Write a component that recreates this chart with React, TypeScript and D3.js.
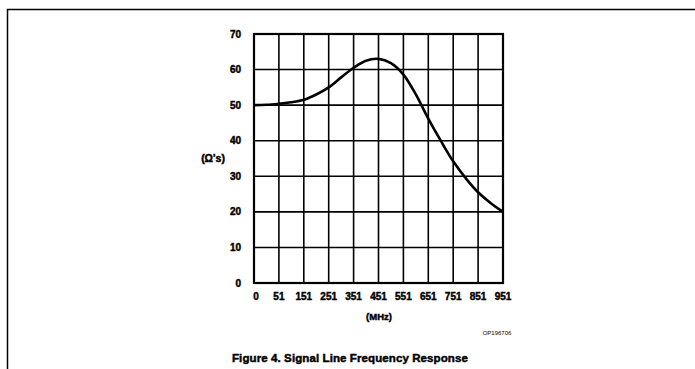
import React from "react";
import * as d3 from "d3";

const xLabels = ["0", "51", "151", "251", "351", "451", "551", "651", "751", "851", "951"];
const yTicks = [0, 10, 20, 30, 40, 50, 60, 70];
// curve samples: position in grid units (0..10) and ohms
const curveX = [0, 0.5, 1, 1.5, 2, 2.5, 3, 3.5, 4, 4.5, 5, 5.5, 6, 6.5, 7, 7.5, 8, 8.5, 9, 9.5, 10];
const curveY = [50, 50.1, 50.4, 50.8, 51.5, 53, 55, 57.8, 60.5, 62.5, 63, 61.8, 58.6, 53, 46.2, 40, 34.2, 29.5, 25.5, 22.5, 20];

export default function App() {
  const W = 695, H = 369;
  const left = 254, right = 503, top = 34, bottom = 283;
  const x = d3.scaleLinear().domain([0, xLabels.length - 1]).range([left, right]);
  const y = d3.scaleLinear().domain([0, 70]).range([bottom, top]);
  const line = d3.line<number>()
    .x((_, i) => x(curveX[i]))
    .y((d) => y(d))
    .curve(d3.curveCatmullRom.alpha(0.5));
  const font = "Arial, 'Liberation Sans', Helvetica, sans-serif";
  const heavy = { stroke: "#000", strokeWidth: 0.45 };
  return (
    <svg width={W} height={H} style={{ position: "absolute", left: 0, top: 0, background: "#fff" }}>
      {/* frame */}
      <path d={`M7.5,${H} L7.5,9.5 L${W},9.5`} fill="none" stroke="#000" strokeWidth={1.5} />
      {/* grid */}
      {xLabels.map((_, i) => (
        <line key={"gx" + i} x1={x(i)} x2={x(i)} y1={top} y2={bottom} stroke="#000" strokeWidth={1.6} />
      ))}
      {yTicks.map((t) => (
        <line key={"gy" + t} x1={left} x2={right} y1={y(t)} y2={y(t)} stroke="#000" strokeWidth={1.6} />
      ))}
      <rect x={left} y={top} width={right - left} height={bottom - top} fill="none" stroke="#000" strokeWidth={2.2} />
      {/* curve */}
      <path d={line(curveY) || ""} fill="none" stroke="#000" strokeWidth={2.6} />
      {/* y labels */}
      {yTicks.map((t) => (
        <text key={"yl" + t} x={241} y={y(t) + 3.5} textAnchor="end" fontFamily={font} fontWeight="bold" fontSize={10} {...heavy}>
          {t}
        </text>
      ))}
      <text x={213} y={162} textAnchor="middle" fontFamily={font} fontWeight="bold" fontSize={10.5} {...heavy}>(Ω's)</text>
      {/* x labels */}
      {xLabels.map((l, i) => (
        <text key={"xl" + i} x={x(i) + (i === 0 ? 2 : 0)} y={300} textAnchor="middle" fontFamily={font} fontWeight="bold" fontSize={10} {...heavy}>
          {l}
        </text>
      ))}
      <text x={379} y={320} textAnchor="middle" fontFamily={font} fontWeight="bold" fontSize={9.5} {...heavy}>(MHz)</text>
      <text x={497} y={335} textAnchor="middle" fontFamily={font} fontSize={6}>OP196706</text>
      <text x={350} y={362} textAnchor="middle" fontFamily={font} fontWeight="bold" fontSize={11.5} letterSpacing={0.1} {...heavy}>
        Figure 4. Signal Line Frequency Response
      </text>
    </svg>
  );
}
